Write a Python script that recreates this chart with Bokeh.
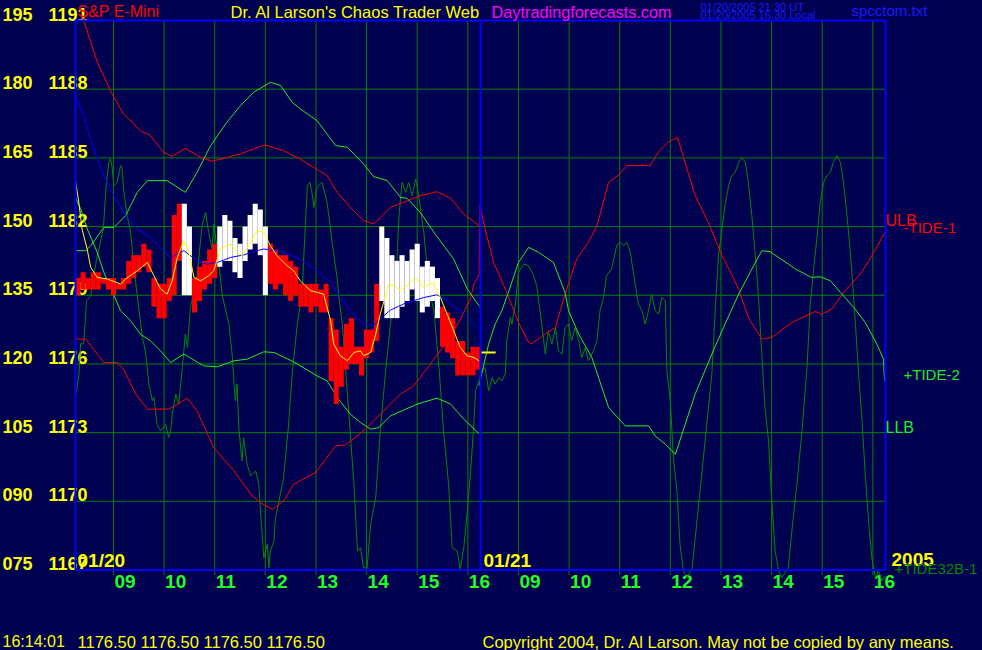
from bokeh.plotting import figure
from bokeh.models import Range1d, Label, ColumnDataSource
from bokeh.transform import factor_cmap
from bokeh.core.properties import value
from bokeh.embed import file_html
from bokeh.resources import INLINE

# ---------------- data ----------------
day_labels = ["01/20", "01/21"]
year_label = "2005"
hour_labels = ["09", "10", "11", "12", "13", "14", "15", "16"]
session_start = 8.25   # session opens 08:15
session_len = 8.0      # hours per session
osc_ticks = [75, 90, 105, 120, 135, 150, 165, 180, 195]
price_ticks = [1167, 1170, 1173, 1176, 1179, 1182, 1185, 1188, 1191]
last_price = 1176.50
clock = "16:14:01"
quote = ["1176.50", "1176.50", "1176.50", "1176.50"]

# price bars (t = hours since 01/20 session open)
bar_t = [0.05, 0.15, 0.25, 0.35, 0.45, 0.55, 0.65, 0.75, 0.85, 0.95,
         1.05, 1.15, 1.25, 1.35, 1.45, 1.55, 1.65, 1.75, 1.85, 1.95,
         2.05, 2.15, 2.25, 2.35, 2.45, 2.55, 2.65, 2.75, 2.85, 2.95,
         3.05, 3.15, 3.25, 3.35, 3.45, 3.55, 3.65, 3.75, 3.85, 3.95,
         4.05, 4.15, 4.25, 4.35, 4.45, 4.55, 4.65, 4.75, 4.85, 4.95,
         5.05, 5.15, 5.25, 5.35, 5.45, 5.55, 5.65, 5.75, 5.85, 5.95,
         6.05, 6.15, 6.25, 6.35, 6.45, 6.55, 6.65, 6.75, 6.85, 6.95,
         7.05, 7.15, 7.25, 7.35, 7.45, 7.55, 7.65, 7.75, 7.85, 7.95]
bar_high = [1179.75, 1180.0, 1179.75, 1180.0, 1180.0, 1179.75, 1179.75, 1179.75, 1179.5, 1179.75,
            1180.5, 1180.75, 1180.75, 1181.25, 1181.0, 1179.75, 1179.5, 1179.5, 1179.75, 1182.5,
            1183.0, 1183.0, 1182.0, 1179.75, 1180.25, 1180.5, 1181.0, 1181.25, 1182.0, 1182.5,
            1182.25, 1181.5, 1181.25, 1182.0, 1182.5, 1183.0, 1182.75, 1182.0, 1181.25, 1181.0,
            1180.75, 1180.75, 1180.5, 1180.25, 1179.5, 1179.5, 1179.5, 1179.5, 1179.25, 1179.5,
            1178.0, 1177.5, 1176.75, 1177.75, 1178.0, 1176.75, 1176.75, 1177.5, 1177.5, 1179.5,
            1182.0, 1181.5, 1180.75, 1180.5, 1180.75, 1180.5, 1181.0, 1181.25, 1180.25, 1180.5,
            1180.25, 1179.75, 1178.5, 1178.25, 1178.0, 1177.0, 1177.0, 1176.5, 1176.75, 1176.75]
bar_low = [1179.0, 1179.25, 1179.25, 1179.25, 1179.25, 1179.5, 1179.25, 1179.0, 1179.25, 1179.25,
           1179.5, 1179.75, 1180.0, 1180.25, 1180.0, 1178.5, 1178.0, 1178.0, 1178.75, 1179.0,
           1180.5, 1179.0, 1179.0, 1178.25, 1178.75, 1179.25, 1179.5, 1179.75, 1180.25, 1180.5,
           1180.5, 1180.0, 1179.75, 1180.5, 1181.0, 1181.25, 1180.75, 1179.0, 1179.5, 1179.25,
           1179.5, 1179.0, 1178.75, 1179.0, 1178.5, 1178.5, 1178.25, 1178.5, 1178.25, 1178.25,
           1175.25, 1174.25, 1175.0, 1175.75, 1176.0, 1176.0, 1175.5, 1176.25, 1176.5, 1177.0,
           1178.75, 1178.0, 1178.0, 1178.0, 1178.5, 1178.75, 1179.25, 1178.75, 1178.25, 1178.5,
           1178.75, 1178.0, 1176.75, 1176.5, 1176.25, 1175.5, 1175.5, 1175.5, 1175.5, 1175.75]
bar_dir = list("DDDDDDDDDDDDDDDDDDDDDUUDDDDDUUUUUUUUUUDDDDDDDDDDDDDDDDDDDDDDUUUUUUUUUUUUDDDDDDDD")

# smoothed price (yellow)
smooth_t = [0.00, 0.065, 0.13, 0.23, 0.30, 0.43, 0.63, 0.89, 0.99, 1.22, 1.42, 1.55, 1.68, 1.81,
            1.91, 2.01, 2.14, 2.24, 2.34, 2.47, 2.63, 2.73, 2.86, 3.06, 3.19, 3.29, 3.46, 3.59,
            3.72, 3.85, 3.98, 4.18, 4.31, 4.44, 4.64, 4.90, 5.04, 5.10, 5.23, 5.37, 5.50, 5.63,
            5.69, 5.83, 5.93, 6.02, 6.19, 6.29, 6.42, 6.55, 6.72, 6.88, 7.05, 7.21, 7.34, 7.47,
            7.60, 7.73, 7.87, 7.97]
smooth_p = [1184.0, 1183.06, 1181.89, 1181.02, 1180.22, 1179.78, 1179.71, 1179.49, 1179.71,
            1180.07, 1180.43, 1179.85, 1179.27, 1179.05, 1179.63, 1180.65, 1181.38, 1180.87,
            1179.78, 1179.63, 1179.85, 1180.07, 1181.02, 1181.24, 1180.87, 1180.73, 1181.31,
            1181.82, 1181.75, 1181.16, 1180.73, 1180.29, 1180.07, 1179.63, 1179.2, 1179.05,
            1177.89, 1176.87, 1176.36, 1176.14, 1176.5, 1176.57, 1176.36, 1176.5, 1177.3,
            1178.18, 1179.49, 1179.42, 1179.2, 1179.42, 1179.78, 1179.34, 1179.56, 1178.9,
            1178.18, 1177.45, 1176.72, 1176.36, 1176.28, 1176.14]

# slow average (blue)
blue_t = [0.00, 0.16, 0.30, 0.43, 0.56, 0.76, 0.95, 1.22, 1.48, 1.68, 1.88, 2.14, 2.40, 2.60,
          2.80, 3.06, 3.32, 3.59, 3.72, 3.98, 4.38, 4.77, 5.04, 5.17, 5.43, 5.69, 5.89, 6.09,
          6.22, 6.48, 6.88, 7.14, 7.34, 7.67, 7.93]
blue_p = [1187.72, 1186.85, 1185.83, 1184.95, 1184.22, 1183.35, 1182.62, 1181.89, 1181.53,
          1181.09, 1180.65, 1180.95, 1180.51, 1180.36, 1180.43, 1180.65, 1180.76, 1180.95,
          1181.02, 1180.95, 1180.65, 1180.07, 1179.56, 1179.11, 1178.32, 1177.74, 1177.67,
          1178.1, 1178.35, 1178.62, 1178.9, 1179.02, 1178.76, 1178.18, 1177.59]

# ULB (upper red, day 1)
ulb_t = [0.13, 0.43, 0.72, 0.95, 1.28, 1.48, 1.74, 1.91, 2.17, 2.47, 2.70, 2.99, 3.26, 3.52,
         3.74, 4.11, 4.44, 4.77, 4.97, 5.17, 5.43, 5.69, 5.89, 6.22, 6.48, 6.81, 7.14, 7.41,
         7.67, 7.97]
ulb_v = [196.1, 185.9, 178.98, 174.6, 170.96, 169.86, 166.21, 165.34, 167.09, 165.12, 164.25,
         165.12, 165.86, 166.96, 167.83, 166.58, 164.77, 162.43, 161.12, 157.47, 154.19,
         151.28, 150.56, 154.19, 155.28, 156.75, 157.62, 156.16, 152.75, 150.19]

# -TIDE-1 (red, both days)
tide1_t = [0.00, 0.20, 0.56, 0.82, 0.95, 1.19, 1.42, 1.84, 2.07, 2.21, 2.40, 2.73, 3.13, 3.46,
           3.65, 3.89, 4.11, 4.31, 4.74, 5.14, 5.33, 5.69, 6.02, 6.42, 6.68, 7.01, 7.27, 7.57,
           7.80, 7.87, 7.97, 7.99, 8.09, 8.26, 8.36, 8.52, 8.75, 8.95, 9.01, 9.28, 9.48, 9.67,
           9.90, 10.13, 10.30, 10.53, 10.73, 10.89, 11.35, 11.52, 11.71, 11.89, 12.01, 12.24,
           12.50, 12.77, 12.96, 13.11, 13.29, 13.56, 13.75, 14.15, 14.61, 14.74, 14.94, 15.20,
           15.53, 15.73, 15.99]
tide1_v = [125.43, 125.43, 120.31, 120.31, 118.87, 113.4, 110.13, 110.13, 111.57, 112.53,
           109.75, 101.73, 96.64, 91.55, 89.71, 88.27, 90.08, 93.73, 96.27, 102.1, 102.32,
           105.38, 109.03, 113.4, 115.22, 119.96, 123.96, 129.05, 134.17, 137.45, 139.26,
           154.7, 149.47, 142.17, 139.63, 135.55, 129.05, 124.68, 124.46, 126.52, 127.96,
           135.26, 142.91, 146.54, 150.19, 159.66, 161.27, 163.31, 163.31, 166.37, 168.4,
           169.49, 165.12, 156.75, 150.91, 143.63, 139.63, 135.98, 130.15, 125.43, 125.78,
           129.06, 131.46, 130.89, 131.98, 135.98, 139.98, 143.63, 148.73]

# upper band (bright green, day 1)
upper_t = [0.00, 0.20, 0.30, 0.56, 0.76, 0.99, 1.22, 1.42, 1.81, 2.17, 2.40, 2.67, 2.99, 3.26,
           3.52, 3.85, 4.05, 4.28, 4.44, 4.77, 5.14, 5.37, 5.69, 5.89, 6.16, 6.42, 6.55, 6.81,
           7.08, 7.47, 7.74, 7.90, 8.00]
upper_v = [144.73, 144.73, 145.82, 149.82, 149.82, 152.38, 157.47, 160.03, 160.03, 157.47,
           161.84, 167.68, 172.77, 176.42, 179.33, 181.51, 180.79, 177.14, 175.7, 173.14,
           167.68, 167.31, 163.68, 160.9, 160.03, 156.38, 156.16, 153.1, 148.73, 142.91,
           136.35, 133.8, 132.33]

# +TIDE-2 (bright green, day 2)
tide2_t = [7.97, 8.16, 8.29, 8.42, 8.55, 8.75, 8.95, 9.15, 9.44, 9.67, 9.74, 9.94, 10.20,
           10.53, 10.59, 10.86, 11.32, 11.45, 11.65, 11.85, 11.98, 12.24, 12.57, 12.83, 13.10,
           13.43, 13.56, 13.72, 14.08, 14.22, 14.54, 14.71, 14.91, 15.11, 15.40, 15.60, 15.83,
           15.96, 15.98]
tide2_v = [115.22, 124.33, 128.7, 131.61, 135.61, 142.17, 145.45, 144.35, 142.17, 135.61,
           131.61, 126.52, 121.4, 110.48, 109.75, 106.48, 106.48, 104.29, 102.48, 100.29,
           104.66, 113.4, 122.15, 128.7, 135.26, 142.17, 144.73, 144.51, 141.82, 140.73,
           138.89, 139.04, 138.17, 135.61, 131.98, 129.05, 124.33, 121.06, 116.31]

# LLB (bright green, day 1)
llb_t = [0.00, 0.10, 0.23, 0.43, 0.56, 0.72, 0.89, 1.09, 1.28, 1.48, 1.68, 1.88, 2.14, 2.53,
         2.80, 3.13, 3.39, 3.72, 3.92, 4.31, 4.77, 4.97, 5.17, 5.43, 5.63, 5.83, 5.99, 6.22,
         6.75, 7.14, 7.41, 7.67, 7.97]
llb_v = [156.31, 153.91, 149.54, 144.35, 139.98, 135.98, 131.61, 129.43, 126.52, 125.05,
         122.87, 120.31, 122.15, 119.59, 119.37, 120.68, 121.05, 122.65, 122.5, 120.46, 117.4,
         116.31, 112.66, 109.03, 107.2, 105.75, 106.1, 108.66, 111.22, 112.53, 111.22, 107.94,
         104.79]

# +TIDE32B-1 oscillator (dark green, both days)
osc_t = [0.00, 0.07, 0.10, 0.16, 0.22, 0.30, 0.41, 0.55, 0.61, 0.66, 0.69, 0.72, 0.76, 0.82,
         0.89, 0.92, 0.95, 1.02, 1.09, 1.15, 1.22, 1.32, 1.38, 1.45, 1.52, 1.55, 1.61, 1.68,
         1.78, 1.84, 1.88, 1.91, 1.98, 2.04, 2.11, 2.17, 2.21, 2.27, 2.34, 2.40, 2.50, 2.57,
         2.63, 2.70, 2.73, 2.80, 2.90, 3.03, 3.10, 3.13, 3.16, 3.19, 3.23, 3.29, 3.32, 3.39,
         3.46, 3.56, 3.62, 3.65, 3.72, 3.79, 3.82, 3.85, 3.92, 3.95, 3.98, 4.11, 4.21, 4.28,
         4.38, 4.48, 4.51, 4.58, 4.63, 4.68, 4.71, 4.77, 4.87, 4.97, 5.07, 5.17, 5.20, 5.27,
         5.40, 5.50, 5.57, 5.63, 5.69, 5.76, 5.83, 5.93, 6.02, 6.12, 6.22, 6.32, 6.39, 6.45,
         6.52, 6.58, 6.65, 6.72, 6.78, 6.88, 6.95, 7.01, 7.08, 7.18, 7.27, 7.37, 7.44, 7.54,
         7.60, 7.67, 7.74, 7.80, 7.87, 7.90, 7.97, 8.03, 8.09, 8.16, 8.23, 8.29, 8.36, 8.42,
         8.49, 8.52, 8.59, 8.62, 8.69, 8.75, 8.85, 8.95, 9.05, 9.11, 9.21, 9.28, 9.34, 9.41,
         9.48, 9.54, 9.61, 9.67, 9.74, 9.80, 9.87, 9.94, 10.00, 10.07, 10.13, 10.23, 10.30,
         10.36, 10.43, 10.49, 10.59, 10.69, 10.76, 10.83, 10.89, 10.96, 11.02, 11.09, 11.12,
         11.19, 11.25, 11.32, 11.38, 11.45, 11.52, 11.58, 11.65, 11.68, 11.75, 11.81, 11.88,
         11.94, 12.01, 12.08, 12.18, 12.27, 12.37, 12.47, 12.57, 12.64, 12.70, 12.77, 12.83,
         12.90, 12.96, 13.03, 13.10, 13.16, 13.23, 13.29, 13.36, 13.43, 13.49, 13.56, 13.62,
         13.69, 13.75, 13.82, 13.89, 13.95, 14.08, 14.15, 14.25, 14.35, 14.45, 14.51, 14.58,
         14.65, 14.71, 14.78, 14.84, 14.91, 14.97, 15.04, 15.11, 15.17, 15.24, 15.30, 15.37,
         15.47, 15.54, 15.60, 15.67, 15.73, 15.80, 15.86, 15.93, 15.98]
osc_v = [112.66, 117.84, 124.4, 124.4, 133.8, 134.9, 142.54, 149.54, 159.59, 164.03, 164.84,
         163.31, 158.93, 159.66, 163.31, 162.65, 158.21, 152.38, 148.73, 141.45, 134.89,
         125.78, 122.87, 115.59, 111.94, 112.66, 106.85, 105.38, 106.85, 103.92, 105.38,
         109.03, 113.4, 111.22, 119.22, 126.52, 123.59, 132.33, 135.98, 139.26, 150.19,
         153.1, 148.73, 145.1, 150.56, 145.1, 134.89, 128.7, 121.4, 115.59, 111.94, 115.59,
         105.38, 98.82, 103.92, 98.1, 95.55, 96.64, 93.73, 88.62, 77.69, 80.62, 75.5, 79.15,
         81.34, 86.43, 87.9, 95.18, 106.85, 117.78, 128.7, 135.98, 143.63, 158.93, 159.66,
         156.75, 154.19, 158.56, 159.66, 155.28, 146.54, 138.54, 134.89, 128.7, 109.03,
         93.73, 79.15, 79.88, 75.5, 75.5, 84.99, 90.8, 105.38, 117.78, 128.7, 135.98, 152.38,
         159.66, 157.47, 159.66, 156.75, 160.4, 156.75, 148.73, 140.73, 134.89, 131.61,
         119.22, 105.38, 93.73, 79.88, 79.15, 75.15, 79.88, 87.9, 95.92, 106.85, 114.13,
         116.31, 118.5, 119.22, 114.13, 117.03, 115.59, 117.03, 116.31, 117.78, 125.05,
         130.15, 128.7, 133.08, 139.98, 141.82, 141.45, 139.26, 137.08, 128.7, 122.15,
         127.24, 124.33, 127.96, 122.87, 122.15, 127.96, 128.7, 125.05, 127.96, 125.05,
         121.4, 123.59, 120.68, 122.87, 125.05, 131.61, 134.52, 139.26, 140.73, 145.82,
         146.54, 145.82, 146.54, 144.35, 139.98, 134.89, 133.08, 131.61, 128.7, 131.61,
         135.26, 131.61, 130.89, 134.52, 133.8, 118.5, 111.94, 99.55, 92.27, 80.62, 74.78,
         73.32, 75.5, 84.99, 95.92, 106.85, 117.78, 132.33, 143.63, 149.47, 154.56, 158.93,
         161.12, 161.84, 164.03, 165.12, 164.03, 159.66, 152.38, 143.63, 134.89, 121.4,
         110.48, 103.2, 90.8, 79.15, 74.78, 73.32, 75.5, 83.52, 93.73, 105.38, 119.22,
         132.33, 140.73, 148.0, 155.28, 159.66, 161.12, 161.84, 164.03, 165.49, 164.03,
         159.66, 152.38, 145.1, 134.89, 117.78, 106.85, 95.92, 84.99, 77.69, 73.32, 74.78,
         72.6, 73.68]

# ---------------- layout / styling ----------------
W, H = 982, 650
FRAME_L, FRAME_R, FRAME_T, FRAME_B = 75.0, 885.0, 20.0, 569.5   # chart box, canvas px
BG = "#000050"
FONT = "Liberation Sans"
GRID = "#008000"
OSC = "#008a00"
LIME = "#22ee22"
RED = "#ff0000"
YEL = "#ffff00"
BLUE = "#0000ff"
TXTBLUE = "#1a1aff"
MID = 0.36   # cap-centre above baseline, in em

x_lo, x_hi = 0.0, 2 * session_len
o_lo, o_hi = osc_ticks[0], osc_ticks[-1]
p_lo, p_hi = price_ticks[0], price_ticks[-1]
sx = (FRAME_R - FRAME_L) / (x_hi - x_lo)
so = (FRAME_B - FRAME_T) / (o_hi - o_lo)
sp = (FRAME_B - FRAME_T) / (p_hi - p_lo)

p = figure(width=W, height=H, output_backend="svg", toolbar_location=None,
           x_axis_type=None, y_axis_type=None,
           x_range=Range1d(x_lo - FRAME_L / sx, x_hi + (W - FRAME_R) / sx),
           y_range=Range1d(o_lo - (H - FRAME_B) / so, o_hi + FRAME_T / so),
           min_border=0, background_fill_color=BG, border_fill_color=BG)
p.extra_y_ranges = {"price": Range1d(p_lo - (H - FRAME_B) / sp, p_hi + FRAME_T / sp)}
p.outline_line_color = None
p.grid.visible = False

hour_ticks = [d * session_len + int(h) - session_start for d in range(2) for h in hour_labels]
tick_len = 5 / so

# grid + tick marks
p.segment(x0=hour_ticks, y0=[o_lo - tick_len] * len(hour_ticks), x1=hour_ticks,
          y1=[o_hi] * len(hour_ticks), line_color=GRID, line_width=1)
p.segment(x0=[x_lo] * len(osc_ticks), y0=osc_ticks, x1=[x_hi] * len(osc_ticks), y1=osc_ticks,
          line_color=GRID, line_width=1)

# tick labels (baseline on the grid line)
p.text(x=[x_lo] * len(osc_ticks), y=osc_ticks, text=[f"{o:03d}" for o in osc_ticks],
       x_offset=2 - FRAME_L, y_offset=-MID * 18, text_align="left", text_baseline="middle",
       text_color=YEL, text_font=value(FONT), text_font_size=value("18px"),
       text_font_style="bold")
p.text(x=[x_lo] * len(price_ticks), y=price_ticks, text=[str(v) for v in price_ticks],
       y_range_name="price", x_offset=12, y_offset=-MID * 18, text_align="right",
       text_baseline="middle", text_color=YEL, text_font=value(FONT),
       text_font_size=value("18px"), text_font_style="bold")
p.text(x=hour_ticks, y=[o_lo] * len(hour_ticks), text=hour_labels * 2, x_offset=1,
       y_offset=18.5 - MID * 19, text_align="left", text_baseline="middle",
       text_color="#22ff22", text_font=value(FONT), text_font_size=value("19px"),
       text_font_style="bold")

# indicator lines
p.line(osc_t, osc_v, line_color=OSC, line_width=1)
p.line(ulb_t, ulb_v, line_color=RED, line_width=1)
p.line(tide1_t, tide1_v, line_color=RED, line_width=1)
p.line(upper_t, upper_v, line_color=LIME, line_width=1)
p.line(tide2_t, tide2_v, line_color=LIME, line_width=1)
p.line(llb_t, llb_v, line_color=LIME, line_width=1)

# price bars
bars = ColumnDataSource(dict(t=bar_t, high=bar_high, low=bar_low, dir=bar_dir))
p.vbar(x="t", width=0.1, top="high", bottom="low", source=bars, y_range_name="price",
       fill_color=factor_cmap("dir", [RED, "#ffffff"], ["D", "U"]), line_color=None)
p.line(blue_t, blue_p, line_color=BLUE, line_width=1, y_range_name="price")
p.line(smooth_t, smooth_p, line_color=YEL, line_width=1, y_range_name="price")
p.line([session_len, session_len + 0.3], [last_price, last_price], line_color=YEL,
       line_width=2, y_range_name="price")

# chart box and day divider
p.quad(left=[x_lo], right=[x_hi], bottom=[o_lo], top=[o_hi], fill_color=None,
       line_color=BLUE, line_width=2)
p.segment(x0=[session_len], y0=[o_lo], x1=[session_len], y1=[o_hi], line_color=BLUE,
          line_width=2)


def txt(s, rx, ry, color, size, bold=False):
    # rx = left edge, ry = baseline, in canvas pixels from top-left
    p.add_layout(Label(x=rx, y=H - (ry - MID * size), x_units="screen", y_units="screen",
                       text=s, text_color=color, text_font=FONT, text_font_size=f"{size}px",
                       text_font_style="bold" if bold else "normal",
                       text_baseline="middle", text_align="left"))


txt("S&P E-Mini", 77, 17, RED, 16)
txt("Dr. Al Larson's Chaos Trader Web", 230, 17, YEL, 16.5)
txt("Daytradingforecasts.com", 491, 17, "#ff00ff", 16.3)
txt("01/20/2005 21:30 UT", 700, 10, TXTBLUE, 11)
txt("01/20/2005 16:30 Local", 700, 18.5, TXTBLUE, 11)
txt("spcctom.txt", 851, 15.5, TXTBLUE, 15)
txt(day_labels[0], 77, 567, YEL, 19, True)
txt(day_labels[1], 483, 567, YEL, 19, True)
txt(year_label, 891, 566, YEL, 19, True)
txt("ULB", 885, 226, RED, 16)
txt("-TIDE-1", 903, 232, RED, 15)
txt("+TIDE-2", 903, 379, LIME, 15)
txt("LLB", 885, 433, LIME, 16)
txt("+TIDE32B-1", 894, 573, OSC, 15)
txt(clock, 2, 647, YEL, 16)
txt(" ".join(quote), 77, 647, YEL, 16.5)
txt("Copyright 2004, Dr. Al Larson. May not be copied by any means.", 482, 647, YEL, 16.5)

html = file_html(p, INLINE)
html = html.replace("</head>", "<style>html,body{background:%s;}</style></head>" % BG, 1)
open("out.html", "w").write(html)
